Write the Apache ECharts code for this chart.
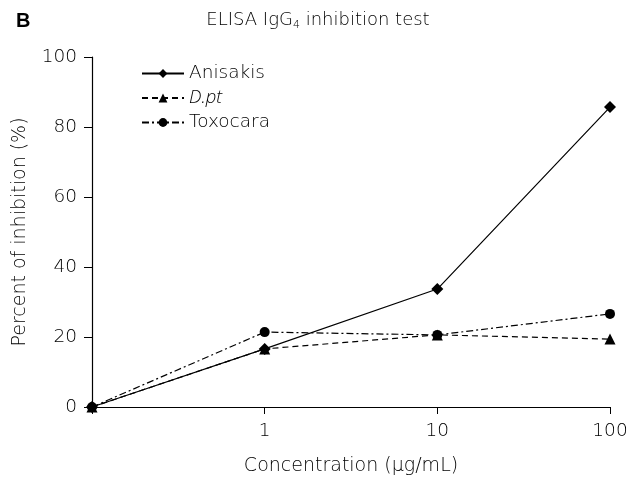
<!DOCTYPE html>
<html><head><meta charset="utf-8">
<script src="https://cdn.jsdelivr.net/npm/echarts@6/dist/echarts.min.js"></script>
<style>html,body{margin:0;padding:0;background:#fff}#c{width:638px;height:477px}</style>
</head><body><div id="c"></div>
<script>
const categories = ['', '1', '10', '100'];
const anisakis = [0, 16.6, 33.7, 85.7];
const dpt = [0, 16.6, 20.6, 19.4];
const toxocara = [0, 21.4, 20.6, 26.6];
const yTicks = [0, 20, 40, 60, 80, 100];

const FONT = 'DejaVu Sans';
const W = 200;
const FS = 18.5;
const chart = echarts.init(document.getElementById('c'));
const mk = (name, data, symbol, size, dash) => ({
  name, type: 'line', data, symbol, symbolSize: size,
  itemStyle: { color: '#000' },
  lineStyle: { color: '#000', width: 1.2, type: dash },
  animation: false
});
chart.setOption({
  backgroundColor: '#fff',
  textStyle: { fontFamily: FONT },
  title: [
    { text: 'B', left: 11, top: 6, textStyle: { fontFamily: 'Liberation Sans', fontWeight: 'bold', fontSize: 20, color: '#000' } },
    { text: '{a|ELISA IgG}{s|4}{a| inhibition test}', left: 313, textAlign: 'center', top: 5,
      textStyle: { rich: {
        a: { fontFamily: FONT, fontWeight: W, fontSize: 18, color: '#000' },
        s: { fontFamily: FONT, fontWeight: W, fontSize: 11, color: '#000', verticalAlign: 'bottom', padding: [10, 0, 0, 0] }
      } } }
  ],
  legend: {
    orient: 'vertical', left: 136, top: 59, itemWidth: 42, itemHeight: 11, itemGap: 5.5,
    data: ['Anisakis', 'D.pt', 'Toxocara'],
    formatter: n => n === 'D.pt' ? '{i|' + n + '}' : '{r|' + n + '}',
    textStyle: { fontSize: FS, color: '#000', rich: {
      r: { fontFamily: FONT, fontWeight: W, fontSize: FS, color: '#000', height: 21 },
      i: { fontFamily: 'Open Sans', fontWeight: 300, fontStyle: 'italic', fontSize: FS, color: '#000', height: 21 }
    } }
  },
  grid: { left: 92, right: 28, top: 57, bottom: 70, containLabel: false, outerBoundsMode: 'none' },
  xAxis: {
    type: 'category', data: categories, boundaryGap: false,
    name: 'Concentration (\u03bcg/mL)', nameLocation: 'middle', nameGap: 50,
    nameTextStyle: { fontFamily: FONT, fontWeight: W, fontSize: 19, color: '#000' },
    axisLine: { lineStyle: { color: '#000', width: 1.2 } },
    axisTick: { alignWithLabel: true, length: 7, lineStyle: { color: '#000' } },
    axisLabel: { fontFamily: FONT, fontWeight: W, fontSize: FS, color: '#000', margin: 15 },
    splitLine: { show: false }
  },
  yAxis: {
    type: 'value', min: 0, max: 100, interval: 20,
    name: 'Percent of inhibition (%)', nameLocation: 'middle', nameGap: 62,
    nameTextStyle: { fontFamily: FONT, fontWeight: W, fontSize: 19, color: '#000' },
    axisLine: { show: true, lineStyle: { color: '#000', width: 1.2 } },
    axisTick: { show: true, length: 8, lineStyle: { color: '#000' } },
    axisLabel: { fontFamily: FONT, fontWeight: W, fontSize: FS, color: '#000', margin: 15,
      formatter: v => yTicks.includes(v) ? String(v) : '' },
    splitLine: { show: false }
  },
  series: [
    mk('Anisakis', anisakis, 'diamond', 12, 'solid'),
    mk('D.pt', dpt, 'triangle', 11, [6, 4]),
    mk('Toxocara', toxocara, 'circle', 10, [7, 3, 2, 3])
  ]
});
</script></body></html>
